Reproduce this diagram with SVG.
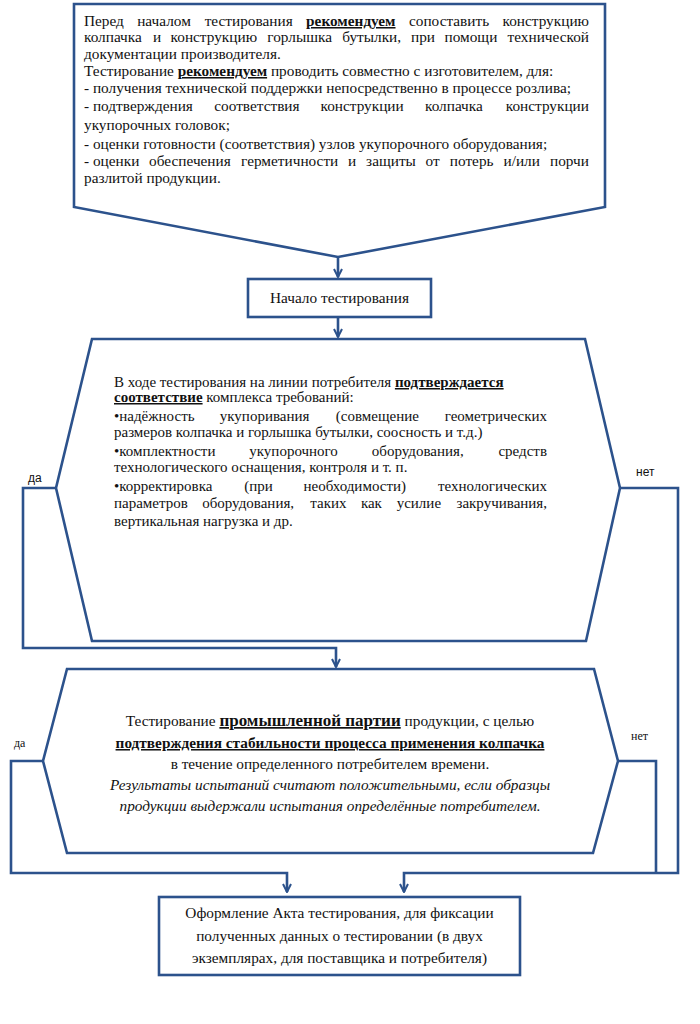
<svg xmlns="http://www.w3.org/2000/svg" width="700" height="1024" viewBox="0 0 700 1024">
<defs>
<style>
.shape{fill:#fff;stroke:#2c528c;stroke-width:2.6;stroke-linejoin:miter}
.conn{fill:none;stroke:#2c528c;stroke-width:2.6}
.t{font-family:'Liberation Serif',serif;font-size:15.3px;fill:#111}
.s{font-size:15px}
.b{font-weight:bold;text-decoration:underline}
.i{font-style:italic}
.lbl{font-family:'Liberation Sans',sans-serif;font-size:12px;fill:#111}
.lbls{font-family:'Liberation Serif',serif;font-size:12px;fill:#111}
</style>
<marker id="arr" viewBox="0 0 10 10" refX="9" refY="5" markerWidth="10" markerHeight="10" markerUnits="userSpaceOnUse" orient="auto">
<path d="M1,1 L9,5 L1,9" fill="none" stroke="#2c528c" stroke-width="2"/>
</marker>
</defs>
<rect width="700" height="1024" fill="#fff"/>

<g id="connectors">
<path class="conn" d="M338,257 L338,277" marker-end="url(#arr)"/>
<path class="conn" d="M338,317 L338,337" marker-end="url(#arr)"/>
<path class="conn" d="M56,488 L23,488 L23,648 L336,648 L336,667" marker-end="url(#arr)"/>
<path class="conn" d="M620,488 L678,488 L678,873 L404,873 L404,892" marker-end="url(#arr)"/>
<path class="conn" d="M43,761 L11,761 L11,873 L287,873 L287,892" marker-end="url(#arr)"/>
<path class="conn" d="M618,761 L656,761 L656,873"/>
<text class="lbl" x="28" y="482">да</text>
<text class="lbl" x="636" y="476">нет</text>
<text class="lbls" x="14" y="747">да</text>
<text class="lbls" x="631" y="740">нет</text>
</g>

<g id="node-intro">
<polygon class="shape" points="74,4 605,4 605,207 338,257 74,207"/>
<text class="t" y="26"><tspan x="84">Перед</tspan><tspan x="137.2">началом</tspan><tspan x="204.7">тестирования</tspan><tspan x="306.1" class="b">рекомендуем</tspan><tspan x="409">сопоставить</tspan></text>
<text class="t" x="589" y="26" text-anchor="end">конструкцию</text>
<text class="t" y="42"><tspan x="84">колпачка</tspan><tspan x="153">и</tspan><tspan x="170.6">конструкцию</tspan><tspan x="267.3">горлышка</tspan><tspan x="342.2">бутылки,</tspan><tspan x="411">при</tspan><tspan x="444.5">помощи</tspan></text>
<text class="t" x="589" y="42" text-anchor="end">технической</text>
<text class="t" x="84" y="59">документации производителя.</text>
<text class="t" x="84" y="76">Тестирование <tspan class="b">рекомендуем</tspan> проводить совместно с изготовителем, для:</text>
<text class="t" x="84" y="93">- получения технической поддержки непосредственно в процессе розлива;</text>
<text class="t" y="111"><tspan x="84">- подтверждения</tspan><tspan x="214.3">соответствия</tspan><tspan x="320.5">конструкции</tspan><tspan x="425">колпачка</tspan></text>
<text class="t" x="589" y="111" text-anchor="end">конструкции</text>
<text class="t" x="84" y="130">укупорочных головок;</text>
<text class="t" x="84" y="149">- оценки готовности (соответствия) узлов укупорочного оборудования;</text>
<text class="t" y="166"><tspan x="84">- оценки</tspan><tspan x="149.1">обеспечения</tspan><tspan x="241.1">герметичности</tspan><tspan x="348.1">и</tspan><tspan x="366.1">защиты</tspan><tspan x="425.6">от</tspan><tspan x="449.8">потерь</tspan><tspan x="503.5">и/или</tspan></text>
<text class="t" x="589" y="166" text-anchor="end">порчи</text>
<text class="t" x="84" y="183">разлитой продукции.</text>
</g>

<g id="node-start">
<rect class="shape" x="248" y="279" width="183" height="38"/>
<text class="t" x="339.5" y="303" text-anchor="middle">Начало тестирования</text>
</g>

<g id="node-check">
<polygon class="shape" points="92,339 585,339 620,488 586,641 92,641 56,488"/>
<text class="t s" x="114" y="387">В ходе тестирования на линии потребителя <tspan class="b">подтверждается</tspan></text>
<text class="t s" x="114" y="402"><tspan class="b">соответствие</tspan> комплекса требований:</text>
<text class="t s" y="421"><tspan x="114">•надёжность</tspan><tspan x="219.8">укупоривания</tspan><tspan x="335.8">(совмещение</tspan></text>
<text class="t s" x="547" y="421" text-anchor="end">геометрических</text>
<text class="t s" x="114" y="437">размеров колпачка и горлышка бутылки, соосность и т.д.)</text>
<text class="t s" y="456"><tspan x="114">•комплектности</tspan><tspan x="249.3">укупорочного</tspan><tspan x="371.8">оборудования,</tspan></text>
<text class="t s" x="547" y="456" text-anchor="end">средств</text>
<text class="t s" x="114" y="472">технологического оснащения, контроля и т. п.</text>
<text class="t s" y="491"><tspan x="114">•корректировка</tspan><tspan x="244.3">(при</tspan><tspan x="303.5">необходимости)</tspan></text>
<text class="t s" x="547" y="491" text-anchor="end">технологических</text>
<text class="t s" y="508"><tspan x="114">параметров</tspan><tspan x="202.2">оборудования,</tspan><tspan x="310.3">таких</tspan><tspan x="360.9">как</tspan><tspan x="396.7">усилие</tspan></text>
<text class="t s" x="547" y="508" text-anchor="end">закручивания,</text>
<text class="t s" x="114" y="526">вертикальная нагрузка и др.</text>
</g>

<g id="node-batch">
<polygon class="shape" points="67,669 594,669 618,761 593,853 67,853 43,761"/>
<text class="t" x="330" y="726" text-anchor="middle">Тестирование <tspan class="b" style="font-size:17px">промышленной партии</tspan> продукции, с целью</text>
<text class="t b" x="330" y="748" text-anchor="middle">подтверждения стабильности процесса применения колпачка</text>
<text class="t" x="330" y="769" text-anchor="middle">в течение определенного потребителем времени.</text>
<text class="t i" x="330" y="790" text-anchor="middle">Результаты испытаний считают положительными, если образцы</text>
<text class="t i" x="330" y="811" text-anchor="middle">продукции выдержали испытания определённые потребителем.</text>
</g>

<g id="node-act">
<rect class="shape" x="159" y="897" width="361" height="78"/>
<text class="t" x="339.5" y="918" text-anchor="middle">Оформление Акта тестирования, для фиксации</text>
<text class="t" x="339.5" y="941" text-anchor="middle">полученных данных о тестировании (в двух</text>
<text class="t" x="339.5" y="963" text-anchor="middle">экземплярах, для поставщика и потребителя)</text>
</g>
</svg>
